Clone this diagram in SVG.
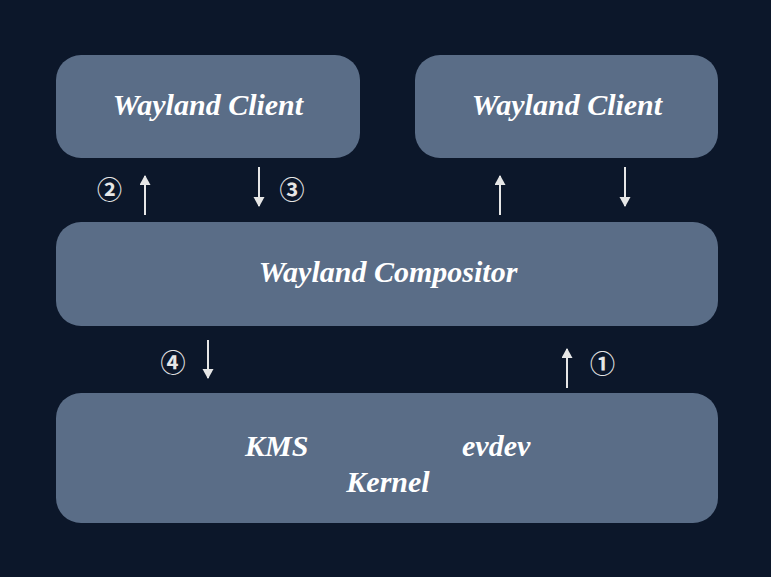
<svg xmlns="http://www.w3.org/2000/svg" width="771" height="577" viewBox="0 0 771 577">
<style>
.box{fill:#5a6d87}
.t{font-family:"Liberation Serif",serif;font-weight:bold;font-style:italic;font-size:30px;fill:#ffffff}
.n{font-family:"Noto Sans CJK SC","DejaVu Sans",sans-serif;font-weight:bold;font-size:25px;fill:#e6e6e6}
.a{stroke:#e6e6e6;stroke-width:2;fill:none}
</style>
<defs>
<marker id="ah" markerWidth="12" markerHeight="12" refX="9" refY="5.5" orient="auto" markerUnits="userSpaceOnUse">
<path d="M0,0 L10,5.5 L0,11 Z" fill="#e6e6e6"/>
</marker>
</defs>
<rect width="771" height="577" fill="#0c172a"/>
<g id="client1"><rect class="box" x="56" y="55" width="304" height="103" rx="25"/><text class="t" x="208" y="115" text-anchor="middle">Wayland Client</text></g>
<g id="client2"><rect class="box" x="415" y="55" width="303" height="103" rx="25"/><text class="t" x="567" y="115" text-anchor="middle">Wayland Client</text></g>
<g id="compositor"><rect class="box" x="56" y="222" width="662" height="104" rx="25"/><text class="t" x="388" y="282" text-anchor="middle">Wayland Compositor</text></g>
<g id="kernel"><rect class="box" x="56" y="393" width="662" height="130" rx="25"/>
<text class="t" x="245" y="456">KMS</text>
<text class="t" x="462" y="456">evdev</text>
<text class="t" x="388" y="492" text-anchor="middle">Kernel</text></g>
<g id="connectors">
<line class="a" x1="145" y1="215" x2="145" y2="176" marker-end="url(#ah)"/>
<line class="a" x1="259" y1="167" x2="259" y2="206" marker-end="url(#ah)"/>
<line class="a" x1="500" y1="215" x2="500" y2="176" marker-end="url(#ah)"/>
<line class="a" x1="625" y1="167" x2="625" y2="206" marker-end="url(#ah)"/>
<line class="a" x1="208" y1="340" x2="208" y2="378" marker-end="url(#ah)"/>
<line class="a" x1="567" y1="388" x2="567" y2="349" marker-end="url(#ah)"/>
<text class="n" x="109.5" y="199" text-anchor="middle">②</text>
<text class="n" x="292" y="199" text-anchor="middle">③</text>
<text class="n" x="173" y="372" text-anchor="middle">④</text>
<text class="n" x="602.5" y="373" text-anchor="middle">①</text>
</g>
</svg>
